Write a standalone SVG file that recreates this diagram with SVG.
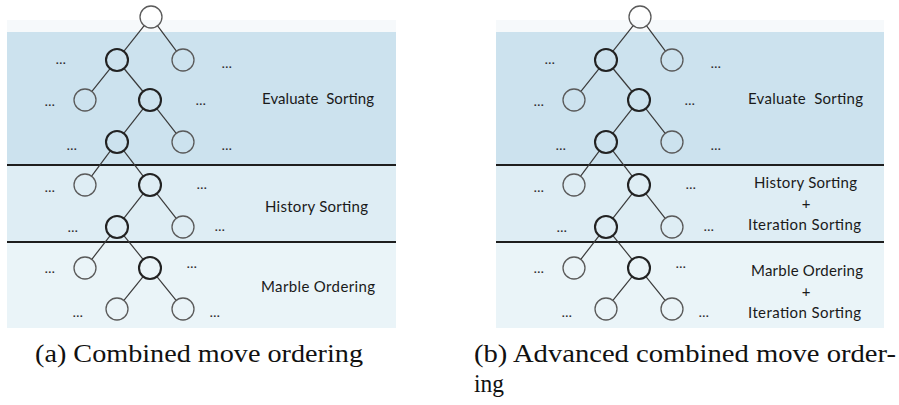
<svg xmlns="http://www.w3.org/2000/svg" width="899" height="405" viewBox="0 0 899 405">
<style>
.n{fill:none;stroke:#5a5a5a;stroke-width:1.3}
.p{fill:none;stroke:#222;stroke-width:2.1}
.e{stroke:#3a3a3a;stroke-width:1.2}
.dv{stroke:#1e1e1e;stroke-width:1.8}
.d{font-family:"Liberation Sans",Arial,sans-serif;font-size:11px;font-weight:bold;fill:#333;text-anchor:middle;letter-spacing:0.5px}
.lb{font-family:Lato,"Open Sans",sans-serif;font-size:15px;fill:#1a1a1a}
.pl{font-family:Lato,"Open Sans",sans-serif;font-size:15px;fill:#1a1a1a;text-anchor:middle}
.cap{font-family:"Liberation Serif","Times New Roman",serif;font-size:26px;fill:#111}
</style>
<defs>
<g id="edges">
<line x1="144.2" y1="25.6" x2="123.8" y2="51.4"/>
<line x1="157.6" y1="25.8" x2="176.4" y2="51.2"/>
<line x1="110.1" y1="68.6" x2="91.9" y2="91.4"/>
<line x1="124" y1="68.5" x2="143" y2="91.5"/>
<line x1="143.2" y1="108.6" x2="123.8" y2="133.4"/>
<line x1="156.8" y1="108.6" x2="176.2" y2="133.4"/>
<line x1="110.4" y1="150.8" x2="91.6" y2="176.2"/>
<line x1="123.7" y1="150.7" x2="143.3" y2="176.3"/>
<line x1="143.2" y1="193.6" x2="123.8" y2="218.4"/>
<line x1="156.8" y1="193.6" x2="176.2" y2="218.4"/>
<line x1="110.2" y1="235.7" x2="91.8" y2="259.3"/>
<line x1="123.9" y1="235.6" x2="143.1" y2="259.4"/>
<line x1="143.1" y1="276.6" x2="123.9" y2="300.4"/>
<line x1="156.9" y1="276.6" x2="176.1" y2="300.4"/>
</g>
</defs>
<!-- panel backgrounds -->
<g id="panelA-bg">
<rect x="7" y="20" width="389" height="12" fill="#f6f9fb"/>
<rect x="7" y="32" width="389" height="133" fill="#cce2ee"/>
<rect x="7" y="165" width="389" height="77" fill="#deedf4"/>
<rect x="7" y="242" width="389" height="86" fill="#eaf4f8"/>
<line class="dv" x1="7" y1="165" x2="396" y2="165"/>
<line class="dv" x1="7" y1="242" x2="396" y2="242"/>
</g>
<g id="panelB-bg">
<rect x="496" y="20" width="388" height="12" fill="#f6f9fb"/>
<rect x="496" y="32" width="388" height="133" fill="#cce2ee"/>
<rect x="496" y="165" width="388" height="77" fill="#deedf4"/>
<rect x="496" y="242" width="388" height="86" fill="#eaf4f8"/>
<line class="dv" x1="496" y1="165" x2="884" y2="165"/>
<line class="dv" x1="496" y1="242" x2="884" y2="242"/>
</g>
<!-- tree A -->
<g id="connectorsA" class="e"><use href="#edges"/></g>
<g id="treeA">
<g id="a-root"><circle class="n" cx="151" cy="17" r="11"/></g>
<g id="a-1l"><circle class="p" cx="117" cy="60" r="11"/></g>
<g id="a-1r"><circle class="n" cx="183" cy="60" r="11"/></g>
<g id="a-2l"><circle class="n" cx="85" cy="100" r="11"/></g>
<g id="a-2r"><circle class="p" cx="150" cy="100" r="11"/></g>
<g id="a-3l"><circle class="p" cx="117" cy="142" r="11"/></g>
<g id="a-3r"><circle class="n" cx="183" cy="142" r="11"/></g>
<g id="a-4l"><circle class="n" cx="85" cy="185" r="11"/></g>
<g id="a-4r"><circle class="p" cx="150" cy="185" r="11"/></g>
<g id="a-5l"><circle class="p" cx="117" cy="227" r="11"/></g>
<g id="a-5r"><circle class="n" cx="183" cy="227" r="11"/></g>
<g id="a-6l"><circle class="n" cx="85" cy="268" r="11"/></g>
<g id="a-6r"><circle class="p" cx="150" cy="268" r="11"/></g>
<g id="a-7l"><circle class="n" cx="117" cy="309" r="11"/></g>
<g id="a-7r"><circle class="n" cx="183" cy="309" r="11"/></g>
</g>
<g id="dotsA">
<text class="d" x="61" y="64">...</text><text class="d" x="227" y="68">...</text>
<text class="d" x="50" y="106">...</text><text class="d" x="201" y="105">...</text>
<text class="d" x="72" y="150">...</text><text class="d" x="227" y="150">...</text>
<text class="d" x="50" y="192">...</text><text class="d" x="202" y="189">...</text>
<text class="d" x="73" y="232">...</text><text class="d" x="220" y="231">...</text>
<text class="d" x="50" y="273">...</text><text class="d" x="192" y="268">...</text>
<text class="d" x="78" y="317">...</text><text class="d" x="215" y="317">...</text>
</g>
<g id="labelsA">
<text class="lb" x="262" y="104" textLength="112" xml:space="preserve">Evaluate  Sorting</text>
<text class="lb" x="265" y="212" textLength="103">History Sorting</text>
<text class="lb" x="261" y="292" textLength="114">Marble Ordering</text>
</g>
<!-- tree B -->
<g transform="translate(489,0)">
<g id="connectorsB" class="e"><use href="#edges"/></g>
<g id="treeB">
<g id="b-root"><circle class="n" cx="151" cy="17" r="11"/></g>
<g id="b-1l"><circle class="p" cx="117" cy="60" r="11"/></g>
<g id="b-1r"><circle class="n" cx="183" cy="60" r="11"/></g>
<g id="b-2l"><circle class="n" cx="85" cy="100" r="11"/></g>
<g id="b-2r"><circle class="p" cx="150" cy="100" r="11"/></g>
<g id="b-3l"><circle class="p" cx="117" cy="142" r="11"/></g>
<g id="b-3r"><circle class="n" cx="183" cy="142" r="11"/></g>
<g id="b-4l"><circle class="n" cx="85" cy="185" r="11"/></g>
<g id="b-4r"><circle class="p" cx="150" cy="185" r="11"/></g>
<g id="b-5l"><circle class="p" cx="117" cy="227" r="11"/></g>
<g id="b-5r"><circle class="n" cx="183" cy="227" r="11"/></g>
<g id="b-6l"><circle class="n" cx="85" cy="268" r="11"/></g>
<g id="b-6r"><circle class="p" cx="150" cy="268" r="11"/></g>
<g id="b-7l"><circle class="n" cx="117" cy="309" r="11"/></g>
<g id="b-7r"><circle class="n" cx="183" cy="309" r="11"/></g>
</g>
<g id="dotsB">
<text class="d" x="61" y="64">...</text><text class="d" x="227" y="68">...</text>
<text class="d" x="50" y="106">...</text><text class="d" x="201" y="105">...</text>
<text class="d" x="72" y="150">...</text><text class="d" x="227" y="150">...</text>
<text class="d" x="50" y="192">...</text><text class="d" x="202" y="189">...</text>
<text class="d" x="73" y="232">...</text><text class="d" x="220" y="231">...</text>
<text class="d" x="50" y="273">...</text><text class="d" x="192" y="268">...</text>
<text class="d" x="78" y="317">...</text><text class="d" x="215" y="317">...</text>
</g>
</g>
<g id="labelsB">
<text class="lb" x="748" y="104" textLength="115" xml:space="preserve">Evaluate  Sorting</text>
<text class="lb" x="754" y="188" textLength="103">History Sorting</text>
<text class="pl" x="806" y="209">+</text>
<text class="lb" x="748" y="230" textLength="113">Iteration Sorting</text>
<text class="lb" x="751" y="276" textLength="112">Marble Ordering</text>
<text class="pl" x="806" y="297">+</text>
<text class="lb" x="748" y="318" textLength="113">Iteration Sorting</text>
</g>
<g id="captions">
<text class="cap" x="35" y="362" textLength="328" lengthAdjust="spacingAndGlyphs">(a) Combined move ordering</text>
<text class="cap" x="474" y="362" textLength="422" lengthAdjust="spacingAndGlyphs">(b) Advanced combined move order-</text>
<text class="cap" x="474" y="392" textLength="30" lengthAdjust="spacingAndGlyphs">ing</text>
</g>
</svg>
